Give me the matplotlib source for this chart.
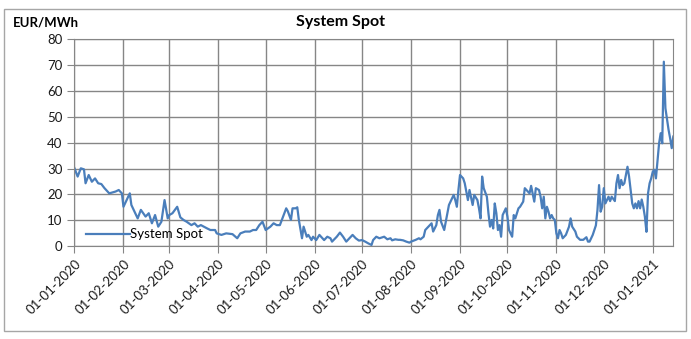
import numpy as np
import pandas as pd
import matplotlib
matplotlib.use("Agg")
import matplotlib.pyplot as plt
import matplotlib.dates as mdates
from matplotlib.patches import Rectangle

plt.rcParams['font.family'] = ['Lato', 'DejaVu Sans']

# days since 01-01-2020 and the daily system price (EUR/MWh)
day_offset = [
    0, 2, 4, 6, 7, 9, 11, 13, 15, 17, 19, 22, 26, 28, 30, 31, 33, 35, 36, 38,
    40, 42, 45, 47, 49, 51, 53, 55, 57, 59, 60, 62, 65, 67, 69, 71, 74, 76, 78, 80,
    84, 86, 89, 90, 93, 96, 100, 103, 105, 108, 111, 113, 115, 117, 119, 121, 124, 126, 128, 130,
    132, 134, 135, 137, 138, 140, 141, 142, 144, 145, 147, 148, 150, 151, 153, 155, 157, 158, 160, 162,
    163, 166, 168, 170, 172, 174, 176, 178, 180, 182, 184, 186, 188, 189, 191, 193, 196, 198, 200, 201,
    203, 205, 206, 208, 210, 212, 213, 216, 218, 219, 221, 222, 224, 226, 227, 229, 230, 231, 232, 234,
    236, 237, 238, 240, 241, 242, 243, 244, 246, 247, 248, 249, 250, 252, 253, 255, 256, 257, 258, 259,
    261, 262, 263, 264, 265, 266, 267, 268, 269, 270, 271, 273, 274, 275, 277, 278, 279, 281, 282, 284,
    285, 287, 288, 289, 291, 292, 294, 295, 296, 297, 298, 299, 300, 301, 302, 303, 304, 305, 306, 307,
    308, 309, 311, 313, 314, 315, 317, 318, 320, 322, 324, 325, 326, 327, 328, 329, 330, 331, 332, 333,
    334, 335, 336, 338, 339, 340, 342, 343, 344, 345, 346, 347, 348, 350, 351, 352, 353, 354, 355, 356,
    357, 358, 359, 360, 361, 362, 363, 364, 365, 366, 367, 368, 370, 371, 372, 373, 374, 376, 377, 378,
    379,
]
system_spot = [
    30.1, 26.9, 30.1, 29.7, 24.3, 27.5, 24.9, 26.2, 24.3, 24.0, 22.4, 20.4, 21.1, 21.7, 20.4, 15.2, 17.8, 20.4, 15.9, 13.3,
    10.7, 14.0, 11.4, 12.7, 8.8, 12.0, 7.5, 9.4, 17.8, 10.7, 12.0, 12.7, 15.2, 11.1, 10.1, 9.4, 8.1, 8.8, 7.5, 8.1,
    6.8, 6.2, 6.2, 4.9, 4.3, 4.9, 4.6, 3.0, 4.9, 5.6, 5.6, 6.2, 6.2, 8.1, 9.4, 6.2, 7.5, 8.8, 8.1, 8.1,
    11.4, 14.6, 13.5, 10.1, 14.6, 14.6, 15.0, 10.1, 3.0, 7.5, 3.6, 4.3, 2.3, 3.6, 2.3, 4.3, 3.0, 2.3, 3.6, 3.0,
    1.7, 3.6, 5.2, 3.6, 1.7, 3.0, 4.3, 3.0, 2.1, 2.3, 1.7, 1.0, 0.4, 2.3, 3.6, 3.0, 3.6, 2.6, 3.0, 2.2,
    2.6, 2.4, 2.4, 2.2, 1.7, 1.3, 1.7, 2.4, 3.0, 2.6, 3.6, 6.2, 7.5, 8.8, 5.6, 8.1, 12.0, 14.0, 9.4, 6.2,
    12.7, 15.9, 17.2, 19.8, 17.8, 15.2, 21.7, 27.5, 26.2, 24.3, 21.1, 17.8, 21.7, 15.9, 19.8, 17.8, 14.6, 10.7, 26.9, 22.4,
    19.1, 12.7, 7.5, 10.1, 6.8, 16.5, 12.7, 6.2, 8.1, 3.6, 12.0, 14.6, 11.4, 6.2, 3.6, 12.0, 10.7, 14.6, 15.2, 17.2,
    22.4, 21.1, 20.4, 23.3, 17.2, 22.4, 21.7, 19.1, 14.6, 19.1, 10.7, 15.2, 13.3, 10.7, 12.0, 10.7, 10.1, 4.9, 3.0, 6.2,
    4.9, 3.0, 4.3, 7.5, 10.7, 7.5, 5.6, 3.6, 2.4, 2.4, 3.4, 1.7, 1.7, 3.0, 4.3, 6.2, 8.0, 14.0, 23.6, 13.3,
    15.2, 22.4, 16.5, 19.1, 17.4, 19.1, 17.4, 24.3, 27.5, 22.4, 25.6, 23.6, 24.3, 30.7, 26.9, 21.7, 16.5, 14.6, 16.5, 14.6,
    17.4, 14.6, 18.0, 15.2, 11.4, 5.5, 20.4, 24.3, 26.2, 28.8, 29.5, 26.2, 39.8, 43.7, 39.8, 71.4, 53.4, 45.0, 41.7, 37.9,
    42.4,
]
month_ticks = pd.date_range("2020-01-01", "2021-01-01", freq="MS")

dates = pd.Timestamp("2020-01-01") + pd.to_timedelta(day_offset, unit="D")

fig = plt.figure(figsize=(6.91, 3.39), dpi=100)
ax = fig.add_axes([0.1078, 0.2743, 0.8666, 0.6092])

grid_col = "#868686"
ax.plot(dates, system_spot, color="#4a7ebb", lw=1.6, label="System Spot")

ax.set_xlim(pd.Timestamp("2020-01-01"), pd.Timestamp("2021-01-14"))
ax.set_ylim(0, 80)
ax.set_yticks(range(0, 81, 10))
ax.set_xticks(month_ticks)
ax.xaxis.set_major_formatter(mdates.DateFormatter("%d-%m-%Y"))
ax.grid(True, color=grid_col, lw=1.0)
ax.set_axisbelow(True)
for s in ax.spines.values():
    s.set_color(grid_col)
ax.tick_params(axis="both", colors=grid_col, labelcolor="#1a1a1a", labelsize=9.5,
               length=5, direction="out")
plt.setp(ax.get_xticklabels(), rotation=45, ha="right", rotation_mode="anchor")

ax.legend(loc="lower left", bbox_to_anchor=(0.0, -0.03), frameon=False,
          fontsize=9.5, handlelength=3.3, handletextpad=0.0)

fig.text(0.493, 0.935, "System Spot", ha="center", va="center",
         fontsize=11.5, fontweight="bold")
fig.text(0.018, 0.935, "EUR/MWh", ha="left", va="center",
         fontsize=9.5, fontweight="bold")

fig.patches.append(Rectangle((0.006, 0.025), 0.987, 0.948, transform=fig.transFigure,
                             fill=False, edgecolor="#a6a6a6", lw=1.0))

fig.savefig("out.png", dpi=100)
